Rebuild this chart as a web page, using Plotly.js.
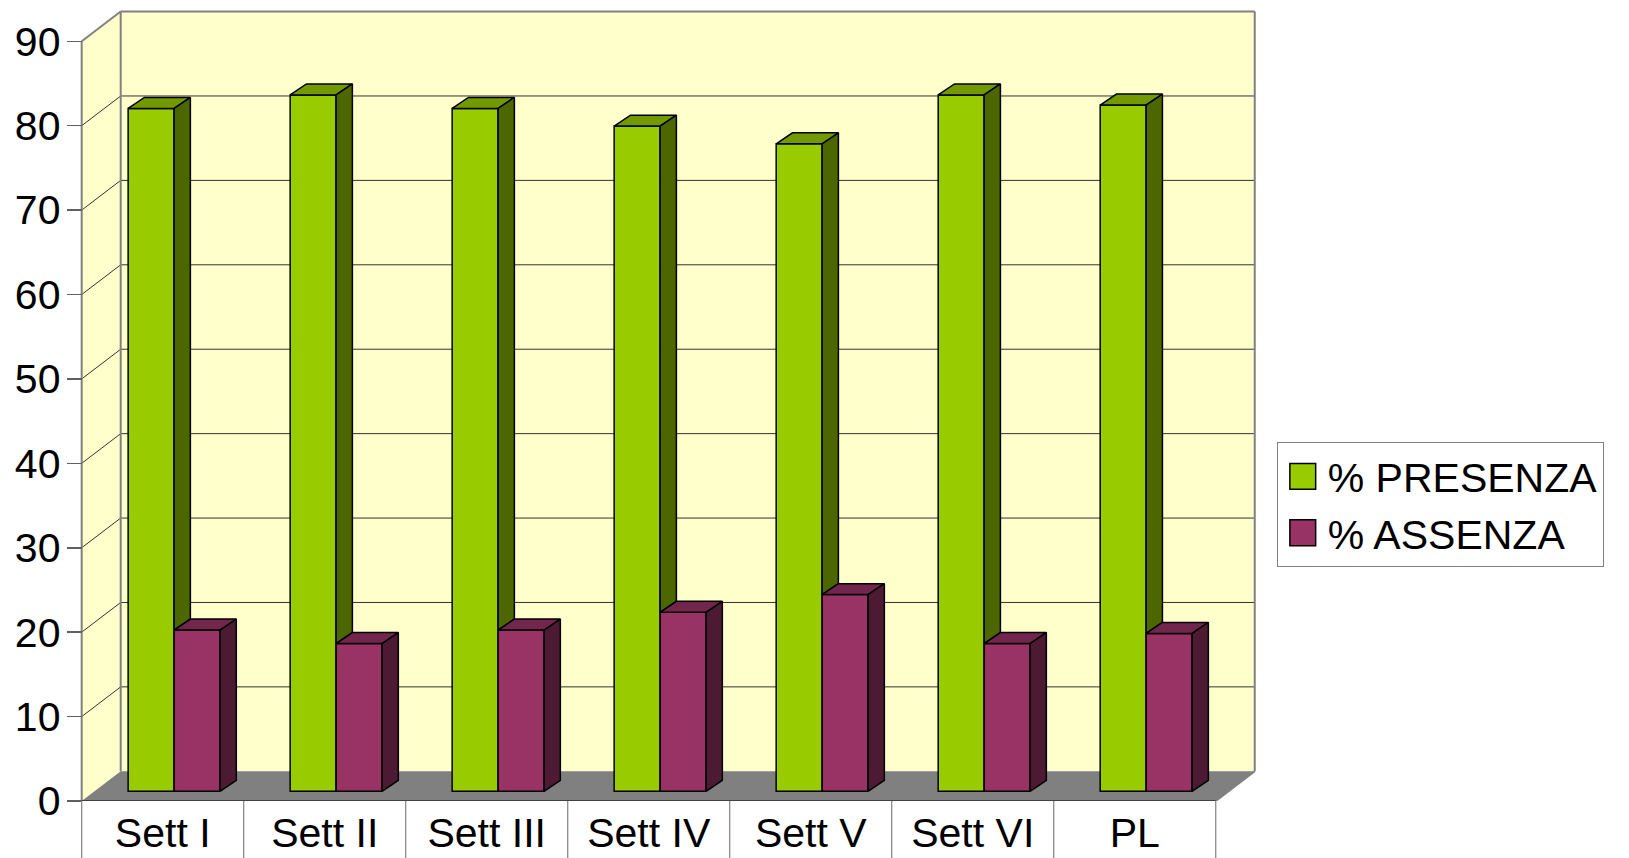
<!DOCTYPE html>
<html><head><meta charset="utf-8">
<script src="https://cdn.plot.ly/plotly-3.0.1.min.js"></script>
<style>html,body{margin:0;padding:0;background:#fff}</style>
</head><body><div id="chart" style="width:1629px;height:858px"></div>
<script>
const categories = ['Sett I', 'Sett II', 'Sett III', 'Sett IV', 'Sett V', 'Sett VI', 'PL'];
const presenza = [80.9, 82.5, 80.9, 78.8, 76.7, 82.5, 81.3];
const assenza = [19.1, 17.5, 19.1, 21.2, 23.3, 17.5, 18.7];
const seriesNames = ['% PRESENZA', '% ASSENZA'];
const yTicks = [0, 10, 20, 30, 40, 50, 60, 70, 80, 90];

// 3D box geometry (data units)
const DX = 0.2407, DY = 3.52;
const BASE = 1.15;
const BW = 0.2836;
const G_OFF = -0.2133, P_OFF = G_OFF + BW;
const SDX = 0.1005, SDY = 1.30;
const X0 = -0.5, X1 = categories.length - 0.5, YMAX = yTicks[yTicks.length - 1];

const xs = categories.map((_, i) => i);
const FONT = 'Liberation Sans, Arial, sans-serif';
const FS = 41;

function polyTrace(polys, fill) {
  const x = [], y = [];
  polys.forEach(p => { x.push(...p[0], null); y.push(...p[1], null); });
  return {type: 'scatter', mode: 'lines', x, y, fill: 'toself', fillcolor: fill,
    line: {color: '#000', width: 1.5}, hoverinfo: 'skip', showlegend: false};
}
function topFace(xl, yt) {
  return [[xl, xl + BW, xl + BW + SDX, xl + SDX, xl], [yt, yt, yt + SDY, yt + SDY, yt]];
}
function sideFace(xr, yb, yt) {
  return [[xr, xr + SDX, xr + SDX, xr, xr], [yb, yb + SDY, yt + SDY, yt, yb]];
}

const traces = [
  {type: 'bar', name: seriesNames[0], x: xs, y: presenza, base: BASE, width: BW, offset: G_OFF,
   marker: {color: '#99cc00', line: {color: '#000', width: 1.5}}, legendgroup: 'a'},
  {type: 'bar', name: seriesNames[1], x: xs, y: assenza, base: BASE, width: BW, offset: P_OFF,
   marker: {color: '#993366', line: {color: '#000', width: 1.5}}, legendgroup: 'b'},
  polyTrace(xs.map((c, i) => topFace(c + G_OFF, BASE + presenza[i])), '#739900'),
  polyTrace(xs.map((c, i) => sideFace(c + G_OFF + BW, BASE + assenza[i], BASE + presenza[i])), '#4c6600'),
  polyTrace(xs.map((c, i) => topFace(c + P_OFF, BASE + assenza[i])), '#73264d'),
  polyTrace(xs.map((c, i) => sideFace(c + P_OFF + BW, BASE, BASE + assenza[i])), '#4d1a33')
];

const shapes = [];
const wall = '#ffffcc', edge = '#808080';
function path(pts) { return 'M' + pts.map(p => p[0] + ',' + p[1]).join('L') + 'Z'; }
shapes.push({type: 'path', layer: 'below', xref: 'x', yref: 'y', fillcolor: wall, line: {width: 0},
  path: path([[X0, 0], [X0 + DX, DY], [X0 + DX, YMAX + DY], [X0, YMAX]])});
shapes.push({type: 'rect', layer: 'below', xref: 'x', yref: 'y', fillcolor: wall, line: {width: 0},
  x0: X0 + DX, x1: X1 + DX, y0: DY, y1: YMAX + DY});
shapes.push({type: 'path', layer: 'below', xref: 'x', yref: 'y', fillcolor: '#808080', line: {width: 0},
  path: path([[X0, 0], [X1, 0], [X1 + DX, DY], [X0 + DX, DY]])});
yTicks.slice(1, -1).forEach(v => {
  shapes.push({type: 'line', layer: 'below', xref: 'x', yref: 'y', x0: X0 + DX, x1: X1 + DX, y0: v + DY, y1: v + DY,
    line: {color: '#333333', width: 1}});
  shapes.push({type: 'line', layer: 'below', xref: 'x', yref: 'y', x0: X0, x1: X0 + DX, y0: v, y1: v + DY,
    line: {color: '#333333', width: 1}});
});
const edges = [
  [X0, 0, X0, YMAX], [X0 + DX, DY, X0 + DX, YMAX + DY], [X0, YMAX, X0 + DX, YMAX + DY],
  [X0 + DX, YMAX + DY, X1 + DX, YMAX + DY], [X1 + DX, DY, X1 + DX, YMAX + DY], [X1, 0, X1 + DX, DY]
];
edges.forEach(e => shapes.push({type: 'line', layer: 'below', xref: 'x', yref: 'y', x0: e[0], y0: e[1], x1: e[2], y1: e[3],
  line: {color: edge, width: 2}}));
shapes.push({type: 'line', layer: 'below', xref: 'x', yref: 'y', x0: X0, x1: X1, y0: 0, y1: 0, line: {color: '#404040', width: 2}});
for (let i = 0; i <= categories.length; i++) {
  shapes.push({type: 'line', layer: 'above', xref: 'x', yref: 'paper', x0: X0 + i, x1: X0 + i, y0: 0, y1: -0.08,
    line: {color: edge, width: 1.2}});
}

const layout = {
  width: 1629, height: 858,
  margin: {l: 78, r: 371, t: 0, b: 57, pad: 0},
  paper_bgcolor: '#fff', plot_bgcolor: 'rgba(0,0,0,0)',
  barmode: 'overlay', showlegend: true,
  font: {family: FONT, size: FS, color: '#000'},
  xaxis: {range: [-0.5228, 6.7608], tickmode: 'array', tickvals: xs, ticktext: categories,
    showgrid: false, zeroline: false, showline: false, ticks: '', tickfont: {size: FS},
    ticklabelstandoff: 4, fixedrange: true},
  yaxis: {range: [0, 94.89], tickmode: 'array', tickvals: yTicks, ticks: 'outside', ticklen: 15,
    tickcolor: '#606060', tickwidth: 1.5, showgrid: false, zeroline: false, showline: false,
    anchor: 'free', position: 0.0031, ticklabelstandoff: -2, tickfont: {size: FS}, fixedrange: true},
  legend: {x: 1.0159, y: 0.4478, xanchor: 'left', yanchor: 'top', bgcolor: '#fff', bordercolor: '#808080',
    borderwidth: 1, font: {size: FS}, tracegroupgap: 0, traceorder: 'normal', itemwidth: 40,
    entrywidth: 290, entrywidthmode: 'pixels'},
  shapes: shapes
};

Plotly.newPlot('chart', traces, layout, {staticPlot: true}).then(gd => {
  document.querySelectorAll('.legend .legendpoints path').forEach(p => {
    const t = p.getAttribute('transform') || '';
    p.setAttribute('transform', t + ' scale(2.15)');
    p.style.vectorEffect = 'non-scaling-stroke';
  });
});
</script></body></html>
